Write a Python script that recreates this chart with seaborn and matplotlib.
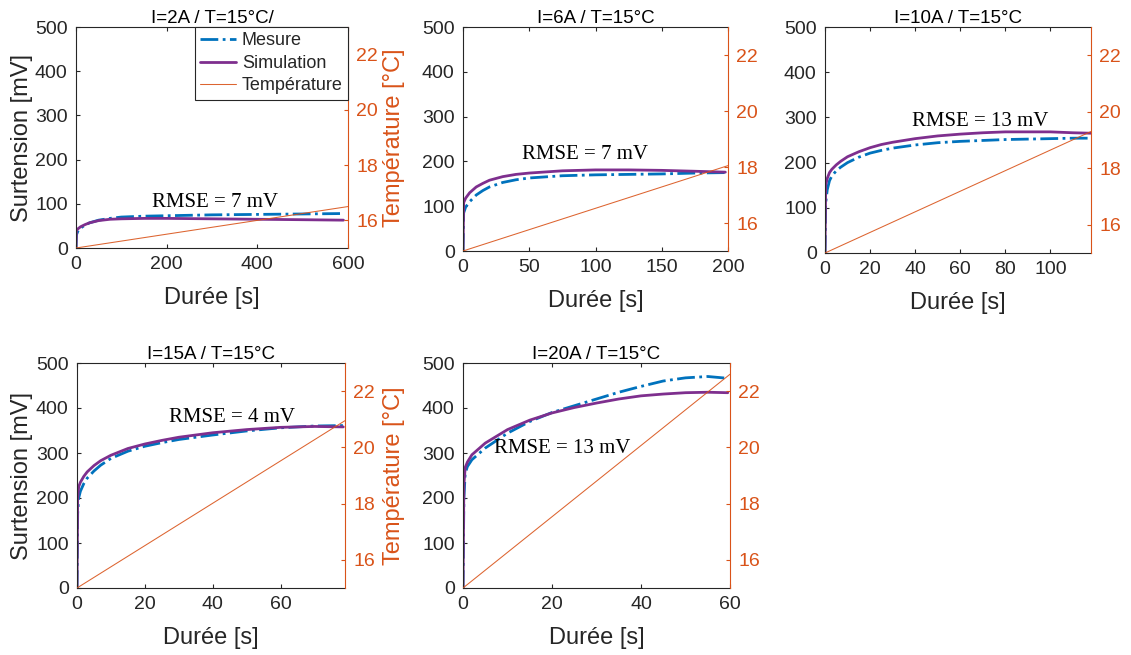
import matplotlib

matplotlib.use("Agg")
import matplotlib.pyplot as plt
import pandas as pd
import seaborn as sns

# Titles and RMSE annotations of the five tests
titles = [
    "I=2A / T=15°C/",
    "I=6A / T=15°C",
    "I=10A / T=15°C",
    "I=15A / T=15°C",
    "I=20A / T=15°C",
]
rmse_labels = ["RMSE = 7 mV", "RMSE = 7 mV", "RMSE = 13 mV", "RMSE = 4 mV", "RMSE = 13 mV"]

# I = 2A
t_2A = [0, 1, 5, 10, 20, 30, 50, 75, 100, 150, 200, 300, 400, 500, 590]
mesure_2A = [0, 30, 40, 45, 52, 57, 63, 67, 70, 72, 73, 75, 76, 77, 78]
simulation_2A = [0, 40, 44, 48, 53, 57, 62, 65, 66, 67, 67, 66, 65, 64, 63]
temp_t_2A = [0, 600]
temp_2A = [15.0, 16.5]

# I = 6A
t_6A = [0, 0.5, 2, 5, 10, 15, 20, 30, 40, 50, 75, 100, 125, 150, 175, 198]
mesure_6A = [0, 85, 98, 110, 125, 135, 143, 153, 159, 163, 168, 170, 171, 172, 174, 175]
simulation_6A = [0, 108, 118, 130, 143, 151, 158, 166, 171, 174, 179, 181, 181, 180, 178, 176]
temp_t_6A = [0, 200]
temp_6A = [15.0, 18.05]

# I = 10A
t_10A = [0, 0.3, 1, 2, 3, 5, 7, 10, 15, 20, 25, 30, 40, 50, 60, 70, 80, 90, 100, 110, 118]
mesure_10A = [0, 110, 140, 160, 170, 182, 190, 200, 212, 221, 227, 232, 239, 244, 247,
              249, 251, 252, 253, 254, 254]
simulation_10A = [0, 150, 165, 178, 185, 195, 203, 213, 224, 233, 240, 245, 253, 259, 263,
                  266, 268, 268, 268, 266, 265]
temp_t_10A = [0, 118]
temp_10A = [15.0, 19.3]

# I = 15A
t_15A = [0, 0.2, 0.5, 1, 2, 3, 5, 7, 10, 15, 20, 25, 30, 40, 50, 60, 70, 78.5]
mesure_15A = [0, 165, 200, 215, 232, 244, 260, 273, 288, 304, 315, 323, 330, 340, 349,
              356, 360, 361]
simulation_15A = [0, 200, 225, 235, 248, 258, 272, 283, 295, 310, 320, 328, 335, 345, 352,
                  357, 359, 358]
temp_t_15A = [0, 79]
temp_15A = [15.0, 20.95]

# I = 20A
t_20A = [0, 0.2, 0.5, 1, 2, 5, 10, 15, 20, 25, 30, 35, 40, 45, 50, 55, 59.5]
mesure_20A = [0, 200, 255, 270, 285, 311, 344, 370, 390, 405, 420, 435, 448, 460, 467, 470, 466]
simulation_20A = [0, 230, 268, 280, 296, 322, 352, 373, 389, 401, 411, 420, 427, 431, 434, 435, 434]
temp_t_20A = [0, 60]
temp_20A = [15.0, 22.6]

C_MES = "#0072BD"
C_SIM = "#7E2F8E"
C_TMP = "#D95319"
C_TXT = "#262626"

sns.set_style("ticks")
plt.rcParams["font.family"] = ["Liberation Sans", "DejaVu Sans"]

W, H = 1131, 655
fig = plt.figure(figsize=(W / 100, H / 100), dpi=100)

# (left, top, right, bottom) in pixels, xlim, xticks, rmse position, labels
panels = [
    ((76, 27, 348, 248), 600, [0, 200, 400, 600], (307, 104), True,
     t_2A, mesure_2A, simulation_2A, temp_t_2A, temp_2A),
    ((463, 27, 728, 251), 200, [0, 50, 100, 150, 200], (92, 215), False,
     t_6A, mesure_6A, simulation_6A, temp_t_6A, temp_6A),
    ((825, 27, 1091, 253), 118, [0, 20, 40, 60, 80, 100], (69, 290), False,
     t_10A, mesure_10A, simulation_10A, temp_t_10A, temp_10A),
    ((77, 363, 345, 588), 79, [0, 20, 40, 60], (45.6, 379), True,
     t_15A, mesure_15A, simulation_15A, temp_t_15A, temp_15A),
    ((463, 363, 730, 588), 60, [0, 20, 40, 60], (22.2, 310), False,
     t_20A, mesure_20A, simulation_20A, temp_t_20A, temp_20A),
]

for idx, (px, xmax, xticks, rpos, with_labels, t, mes, sim, tt, temp) in enumerate(panels):
    l, tp, r, b = px
    ax = fig.add_axes([l / W, 1 - b / H, (r - l) / W, (b - tp) / H])
    df = pd.DataFrame({"t": t, "Mesure": mes, "Simulation": sim})
    sns.lineplot(data=df, x="t", y="Mesure", ax=ax, color=C_MES, lw=2,
                 linestyle="-.", label="Mesure", legend=False)
    sns.lineplot(data=df, x="t", y="Simulation", ax=ax, color=C_SIM, lw=2,
                 label="Simulation", legend=False)
    ax.set_xlim(0, xmax)
    ax.set_ylim(0, 500)
    ax.set_xticks(xticks)
    ax.set_yticks(range(0, 501, 100))
    ax.tick_params(direction="in", length=3, width=0.8, colors=C_TXT,
                   labelsize=14, top=True, pad=6)
    for s in ["left", "top", "bottom"]:
        ax.spines[s].set_color(C_TXT)
        ax.spines[s].set_linewidth(0.8)
    ax.spines["right"].set_visible(False)
    ax.set_xlabel("Durée [s]", fontsize=17, color=C_TXT, labelpad=10)
    ax.set_ylabel("Surtension [mV]" if with_labels else "", fontsize=17, color=C_TXT)
    ax.set_title(titles[idx], fontsize=13.5, color="black", pad=3)
    ax.text(rpos[0], rpos[1], rmse_labels[idx], family="Liberation Serif",
            fontsize=15, ha="center", va="center", color="black")

    ax2 = ax.twinx()
    dft = pd.DataFrame({"t": tt, "T": temp})
    sns.lineplot(data=dft, x="t", y="T", ax=ax2, color=C_TMP, lw=0.75, alpha=0.9,
                 label="Température", legend=False)
    ax2.set_ylim(15, 23)
    ax2.set_yticks([16, 18, 20, 22])
    ax2.set_xlim(0, xmax)
    ax2.tick_params(axis="y", direction="in", length=3, width=0.8, colors=C_TMP,
                    labelsize=14, pad=6)
    for s in ["left", "top", "bottom"]:
        ax2.spines[s].set_visible(False)
    ax2.spines["right"].set_color(C_TMP)
    ax2.spines["right"].set_linewidth(0.8)
    ax2.set_xlabel("")
    ax2.set_ylabel("Température [°C]" if with_labels else "", fontsize=17, color=C_TMP)

    if with_labels:
        ax.yaxis.set_label_coords((33 - l) / (r - l), 0.5)
        ax2.yaxis.set_label_coords((383 - l) / (r - l), 0.5)

    if idx == 0:
        h1, l1 = ax.get_legend_handles_labels()
        h2, l2 = ax2.get_legend_handles_labels()
        leg = ax2.legend(h1 + h2, l1 + l2, loc="upper right", bbox_to_anchor=(1, 1),
                         borderaxespad=0, fontsize=13, fancybox=False, framealpha=1,
                         edgecolor=C_TXT, handlelength=2.0, labelspacing=0.3,
                         borderpad=0.3, handletextpad=0.3)
        leg.get_frame().set_linewidth(0.8)

fig.savefig("out.png", dpi=100)
